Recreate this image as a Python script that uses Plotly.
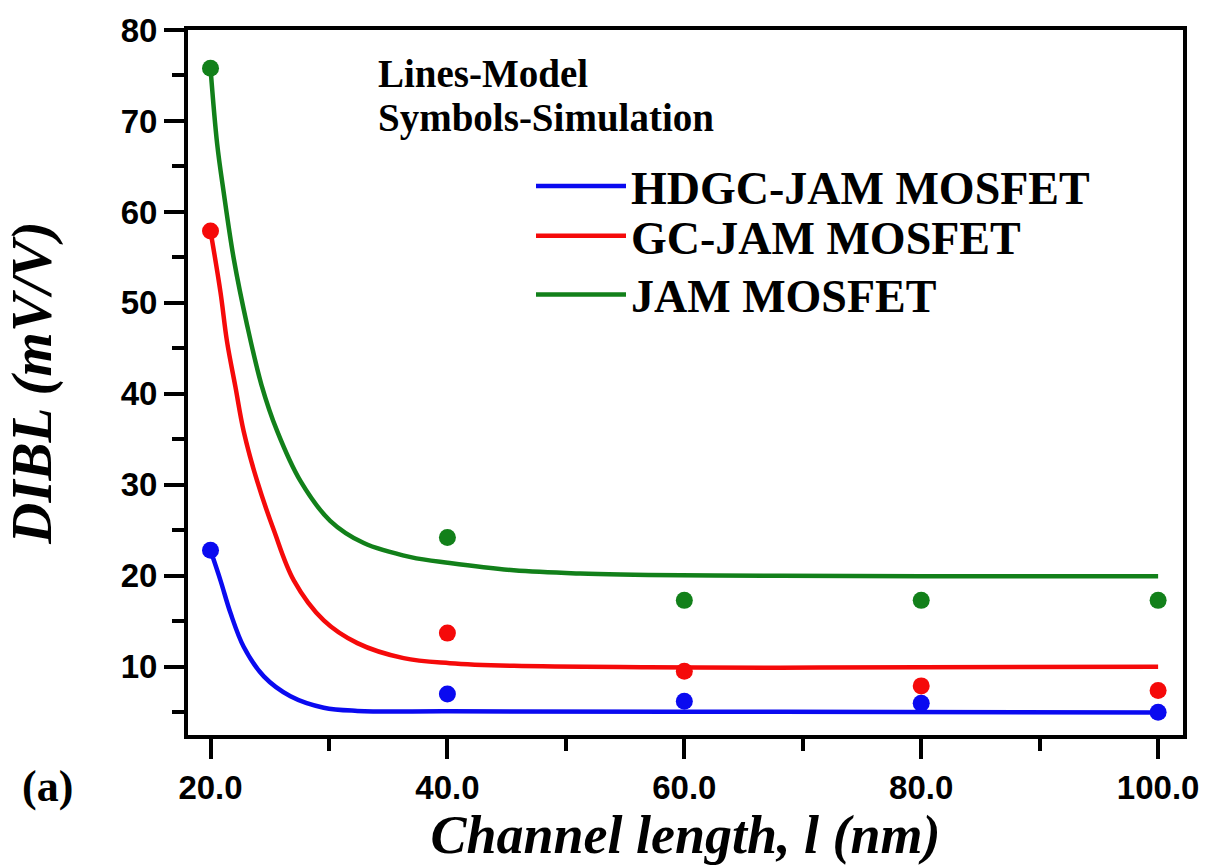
import plotly.graph_objects as go

# Simulation (symbols) at the simulated channel lengths
sim_length = [20, 40, 60, 80, 100]
sim_hdgc = [22.8, 7.0, 6.2, 6.0, 5.0]
sim_gc = [57.9, 13.7, 9.5, 7.9, 7.4]
sim_jam = [75.8, 24.2, 17.3, 17.3, 17.3]

# Analytical model (lines)
model_hdgc_x = [20.0, 20.84, 21.69, 22.8, 24.5, 26.75, 29.56, 32.4, 40.2, 68.1, 100.0]
model_hdgc_y = [22.8, 19.5, 15.9, 12.2, 8.94, 6.76, 5.5, 5.15, 5.1, 5.05, 4.98]

model_gc_x = [20.0, 20.84, 21.4, 22.1, 22.8, 23.94, 25.35, 27.03, 29.56, 32.4,
              36.3, 40.2, 45.6, 56.9, 68.1, 80.0, 100.0]
model_gc_y = [57.9, 51.2, 45.7, 40.8, 35.9, 30.4, 25.0, 19.5, 15.1, 12.6,
              10.95, 10.4, 10.1, 9.95, 9.9, 9.95, 10.0]

model_jam_x = [20.0, 20.56, 21.12, 21.97, 23.1, 24.3, 25.63, 27.6, 30.1, 32.94,
               36.9, 40.2, 45.6, 51.2, 59.7, 68.1, 80.0, 100.0]
model_jam_y = [75.8, 67.5, 62.1, 54.8, 47.5, 41.0, 35.9, 30.4, 26.05, 23.6,
               22.05, 21.4, 20.6, 20.25, 20.05, 20.0, 19.95, 19.95]

names = ["HDGC-JAM MOSFET", "GC-JAM MOSFET", "JAM MOSFET"]
colors = ["#0a0af0", "#f50a0a", "#12801a"]
legend_ids = ["legend", "legend2", "legend3"]
legend_rows_px = [183, 233, 292]  # vertical centre of each legend row

SERIF = "Liberation Serif, Times New Roman, serif"
SANS = "Liberation Sans, Arial, sans-serif"

PLOT_TOP, PLOT_H = 26, 709

fig = go.Figure()

models = [(model_hdgc_x, model_hdgc_y), (model_gc_x, model_gc_y), (model_jam_x, model_jam_y)]
sims = [sim_hdgc, sim_gc, sim_jam]

for name, color, (mx, my), sy, lg in zip(names, colors, models, sims, legend_ids):
    fig.add_trace(go.Scatter(
        x=mx, y=my, mode="lines", name=name, legend=lg,
        line=dict(color=color, width=4.5, shape="spline", smoothing=1.0),
    ))
    fig.add_trace(go.Scatter(
        x=sim_length, y=sy, mode="markers", name=name + " (sim)",
        marker=dict(color=color, size=17, symbol="circle"),
        showlegend=False,
    ))

axis_common = dict(
    showgrid=False, zeroline=False,
    showline=True, linewidth=4, linecolor="black", mirror=True,
    ticks="outside", ticklen=20, tickwidth=4, tickcolor="black",
    tickfont=dict(family=SANS, size=33, color="black", weight="bold"),
)

fig.update_xaxes(
    range=[18.1, 102.1], tick0=20, dtick=20, tickformat=".1f",
    minor=dict(dtick=10, ticks="outside", ticklen=12, tickwidth=4, tickcolor="black"),
    title=dict(text="<b><i>Channel length, l (nm)</i></b>",
               font=dict(family=SERIF, size=54, color="black"), standoff=2),
    **axis_common,
)
fig.update_yaxes(
    range=[2.5, 80], tick0=0, dtick=10,
    minor=dict(dtick=5, ticks="outside", ticklen=12, tickwidth=4, tickcolor="black"),
    title=dict(text="<b><i>DIBL (mV/V)</i></b>",
               font=dict(family=SERIF, size=57, color="black"), standoff=52),
    **axis_common,
)

for text, ypx in [("<b>Lines-Model</b>", 70), ("<b>Symbols-Simulation</b>", 114)]:
    fig.add_annotation(
        text=text, xref="paper", yref="paper",
        x=(376 - 188) / 995, y=1 - (ypx - PLOT_TOP) / PLOT_H,
        xanchor="left", yanchor="middle",
        showarrow=False, font=dict(family=SERIF, size=39, color="black"),
    )
fig.add_annotation(
    text="<b>(a)</b>", xref="paper", yref="paper",
    x=(47 - 188) / 995, y=1 - (787 - PLOT_TOP) / PLOT_H,
    xanchor="center", yanchor="middle",
    showarrow=False, font=dict(family=SERIF, size=44, color="black"),
)

legend_style = dict(
    x=(531 - 188) / 995, xanchor="left", yanchor="middle",
    bgcolor="rgba(0,0,0,0)", borderwidth=0, itemwidth=90,
    font=dict(family=SERIF, size=46, color="black", weight="bold"),
)
layout_legends = {
    lg: dict(y=1 - (ypx - PLOT_TOP) / PLOT_H, **legend_style)
    for lg, ypx in zip(legend_ids, legend_rows_px)
}

fig.update_layout(
    width=1220, height=865,
    margin=dict(l=188, r=37, t=26, b=130),
    paper_bgcolor="white", plot_bgcolor="white",
    **layout_legends,
)

fig.write_html("out.html")
